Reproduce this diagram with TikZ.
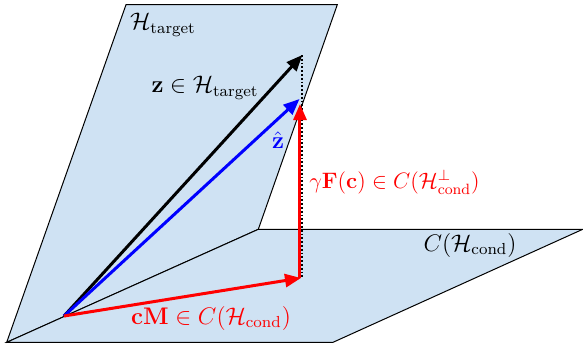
\documentclass[tikz,border=0pt]{standalone}
\usepackage{amsmath,amssymb,graphicx}
\usepackage{tikz}
\usetikzlibrary{arrows.meta,calc}
\definecolor{pfill}{HTML}{CFE2F3}
\definecolor{vred}{HTML}{FF0000}
\definecolor{vblue}{HTML}{0000FF}
\tikzset{
 plane/.style={fill=pfill, draw=black, line width=0.5pt},
 vec/.style={line width=1.5pt, -{Triangle[length=8pt,width=6.5pt]}},
 lbl/.style={font=\large, inner sep=1pt}
}

\begin{document}
\begin{tikzpicture}[scale=0.8786]
 \useasboundingbox (0,0) rectangle (11.66,6.9);
 % planes
 \coordinate (A) at (0.134,0.054);
 \coordinate (B) at (5.166,2.314);
 \coordinate (C) at (11.654,2.314);
 \coordinate (D) at (6.66,0.054);
 \coordinate (T1) at (2.52,6.806);
 \coordinate (T2) at (6.746,6.806);
 \draw[plane] (A) -- (T1) -- (T2) -- (B) -- cycle;
 \draw[plane] (A) -- (B) -- (C) -- (D) -- cycle;
 \node[lbl] (ht) at (3.26,6.4) {$\mathcal{H}_{\text{target}}$};
 \node[lbl] (hc) at (9.4,2.0) {$C(\mathcal{H}_{\text{cond}})$};
 % vectors
 \coordinate (O) at (1.28,0.58);
 \coordinate (z) at (6.046,5.8);
 \coordinate (zh) at (5.99,4.92);
 \coordinate (cM) at (6.02,1.34);
 \coordinate (cMb) at (6.0,1.34);
 \coordinate (gF) at (6.0,4.82);
 \coordinate (zb) at (6.046,1.34);
 \draw[densely dotted, line width=0.9pt] (z) -- (zb);
 \draw[vec, black] (O) -- (z);
 \draw[vec, vblue] (O) -- (zh);
 \draw[vec, vred] (O) -- (cM);
 \draw[vec, vred] (cMb) -- (gF);
 \node[lbl] (zl) at (4.1,5.14) {$\mathbf{z}\in\mathcal{H}_{\text{target}}$};
 \node[lbl, text=vblue] (zhl) at (5.56,4.1) {$\hat{\mathbf{z}}$};
 \node[lbl, text=vred, anchor=west] (gFl) at (6.14,3.26) {\scalebox{0.93}{$\gamma\mathbf{F}(\mathbf{c})\in C(\mathcal{H}^{\perp}_{\text{cond}})$}};
 \node[lbl, text=vred] (cMl) at (4.22,0.54) {$\mathbf{cM}\in C(\mathcal{H}_{\text{cond}})$};
\end{tikzpicture}
\end{document}
